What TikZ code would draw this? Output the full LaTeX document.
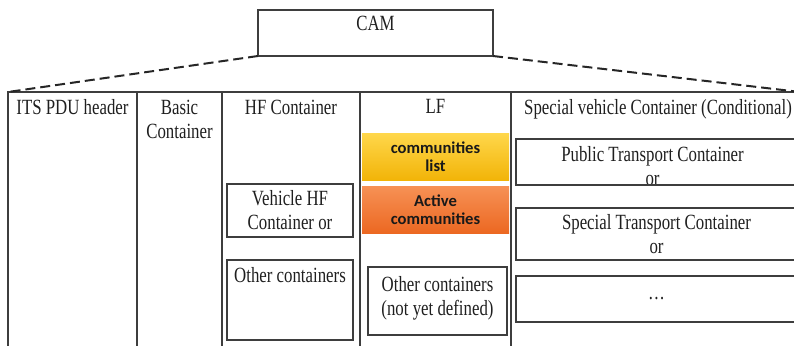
\documentclass[tikz,border=0pt]{standalone}
\usepackage{fontspec}
\setmainfont{Liberation Serif}[FakeStretch=0.775]
\newfontfamily\tagfont{Carlito}
\definecolor{linecolor}{RGB}{62,62,62}
\definecolor{listtop}{RGB}{255,215,75}
\definecolor{listbot}{RGB}{242,180,8}
\definecolor{acttop}{RGB}{246,145,85}
\definecolor{actbot}{RGB}{236,104,34}
\usetikzlibrary{positioning}

\begin{document}
\begin{tikzpicture}[x=1pt, y=-1pt, text=black!88,
    font=\fontsize{21.7}{24}\selectfont,
    cell/.style={draw=linecolor, line width=1.6pt, anchor=north west, inner sep=0pt, outer sep=0pt, align=center},
    colcell/.style={cell, minimum height=290pt},
    head/.style={anchor=north, align=center, inner sep=0pt},
    tag/.style={anchor=north west, inner sep=0pt, outer sep=0pt, minimum width=147pt, minimum height=47pt, align=center,
      font=\tagfont\bfseries\fontsize{16.6}{17.5}\selectfont, text=black!90},
    link/.style={draw=black!85, line width=2pt, dash pattern=on 10pt off 5pt}]
  \useasboundingbox (0,0) rectangle (794,345);
  \clip (0,0) rectangle (794,345);

  % message
  \node[cell, line width=1.2pt, minimum width=235pt, minimum height=46pt] (cam) at (258,10) {};
  \node[head, yshift=-6pt] (camtext) at (cam.north) {CAM};

  % containers
  \node[colcell, minimum width=129pt] (its) at (8,92) {};
  \node[colcell, minimum width=85pt] (basic) at (137,92) {};
  \node[colcell, minimum width=138pt] (hf) at (222,92) {};
  \node[colcell, minimum width=151pt] (lf) at (360,92) {};
  \node[colcell, minimum width=289pt] (special) at (511,92) {};

  \node[head, yshift=-7.5pt] (itshead) at (its.north) {ITS PDU header};
  \node[head, yshift=-7.5pt] (basichead) at (basic.north) {Basic\\Container};
  \node[head, yshift=-7.5pt] (hfhead) at (hf.north) {HF Container};
  \node[head, yshift=-7.5pt] (lfhead) at (lf.north) {LF};
  \node[head, yshift=-7.5pt, xshift=2.5pt] (spechead) at (special.north) {Special vehicle Container (Conditional)};

  % HF
  \node[cell, minimum width=126pt, minimum height=53pt] (vehhf) at (227,184) {Vehicle HF\\Container or};
  \node[cell, minimum width=126pt, minimum height=80pt] (otherhf) at (227,260) {};
  \node[head, yshift=-7.5pt] (otherhftext) at (otherhf.north) {Other containers};

  % LF
  \node[tag, top color=listtop, bottom color=listbot] (commlist) at (362,133) {communities\\list};
  \node[tag, top color=acttop, bottom color=actbot] (active) at (362,186) {Active\\communities};
  \node[cell, minimum width=139pt, minimum height=68pt] (otherlf) at (368,267) {};
  \node[head, yshift=-9.5pt] (otherlftext) at (otherlf.north) {Other containers\\(not yet defined)};

  % special vehicle
  \node[head, yshift=-7pt, xshift=-4pt] (pubtext) at (656.5,139) {Public Transport Container\\or};
  \node[cell, minimum width=281pt, minimum height=46pt] (pubtr) at (516,139) {};
  \node[cell, minimum width=281pt, minimum height=52pt] (spectr) at (516,208) {Special Transport Container\\or};
  \node[cell, minimum width=281pt, minimum height=46pt] (more) at (516,276) {\ldots};

  \draw[link] (cam.south west) -- (its.north west);
  \draw[link] (cam.south east) -- (special.north east);
\end{tikzpicture}
\end{document}
